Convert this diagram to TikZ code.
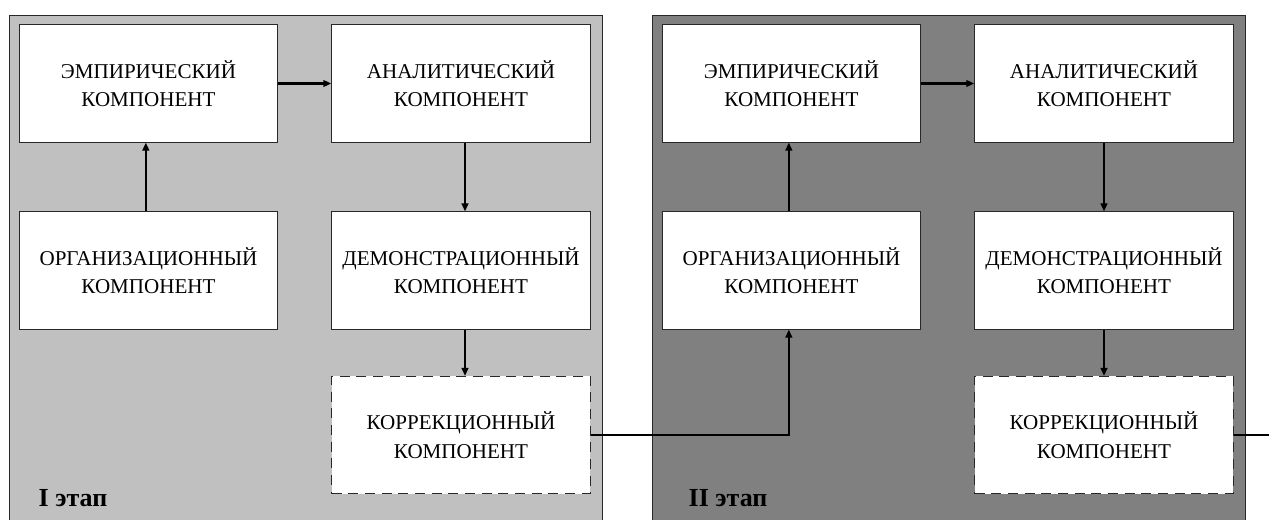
\documentclass[tikz,border=0pt]{standalone}
\usepackage{fontspec}
\setmainfont{Liberation Serif}
\usetikzlibrary{arrows.meta}
\definecolor{stageonegray}{RGB}{192,192,192}
\definecolor{stagetwogray}{RGB}{128,128,128}
\definecolor{boxline}{RGB}{40,40,40}
\tikzset{
  panel/.style={draw=boxline, line width=0.6pt},
  component/.style={draw=boxline, fill=white, rectangle, line width=0.6pt,
    minimum width=194pt, minimum height=88pt, align=center, inner sep=2pt,
    font=\fontsize{15.8}{21.4}\selectfont},
  korrbox/.style={component, dash pattern=on 7.5pt off 5pt},
  flow/.style={-{Triangle[length=6pt,width=5pt]}, line width=1.6pt},
  stage/.style={anchor=base west, font=\bfseries\fontsize{19.5}{22}\selectfont},
}
\begin{document}
\begin{tikzpicture}[x=0.75pt, y=-0.75pt]
\useasboundingbox (0,0) rectangle (1269,520);
% panels
\draw[panel, fill=stageonegray] (9,15) rectangle (602,522);
\draw[panel, fill=stagetwogray] (652,15) rectangle (1245,522);

% stage I
\node (emp1) [component] at (148.5,83.5) {ЭМПИРИЧЕСКИЙ\\КОМПОНЕНТ};
\node (anal1) [component] at (461,83.5) {АНАЛИТИЧЕСКИЙ\\КОМПОНЕНТ};
\node (org1) [component] at (148.5,270.5) {ОРГАНИЗАЦИОННЫЙ\\КОМПОНЕНТ};
\node (dem1) [component] at (461,270.5) {ДЕМОНСТРАЦИОННЫЙ\\КОМПОНЕНТ};
\node (korr1) [korrbox] at (461,435) {КОРРЕКЦИОННЫЙ\\КОМПОНЕНТ};
\node (stage1) [stage] at (34,506) {I этап};

\draw[flow] (emp1) -- (anal1);
\draw[flow] ([xshift=-2pt]org1.north) -- ([xshift=-2pt]emp1.south);
\draw[flow] ([xshift=3pt]anal1.south) -- ([xshift=3pt]dem1.north);
\draw[flow] ([xshift=3pt]dem1.south) -- ([xshift=3pt]korr1.north);

% stage II
\node (emp2) [component] at (791.5,83.5) {ЭМПИРИЧЕСКИЙ\\КОМПОНЕНТ};
\node (anal2) [component] at (1104,83.5) {АНАЛИТИЧЕСКИЙ\\КОМПОНЕНТ};
\node (org2) [component] at (791.5,270.5) {ОРГАНИЗАЦИОННЫЙ\\КОМПОНЕНТ};
\node (dem2) [component] at (1104,270.5) {ДЕМОНСТРАЦИОННЫЙ\\КОМПОНЕНТ};
\node (korr2) [korrbox] at (1104,435) {КОРРЕКЦИОННЫЙ\\КОМПОНЕНТ};
\node (stage2) [stage] at (684,506) {II этап};

\draw[flow] (emp2) -- (anal2);
\draw[flow] ([xshift=-2pt]org2.north) -- ([xshift=-2pt]emp2.south);
\draw[flow] (anal2.south) -- (dem2.north);
\draw[flow] (dem2.south) -- (korr2.north);

% between the stages
\draw[flow] (korr1.east) -| ([xshift=-2pt]org2.south);
\coordinate (exit) at (1269,436);
\draw[line width=1.6pt] (korr2.east) -- (korr2.east -| exit);
\end{tikzpicture}
\end{document}
